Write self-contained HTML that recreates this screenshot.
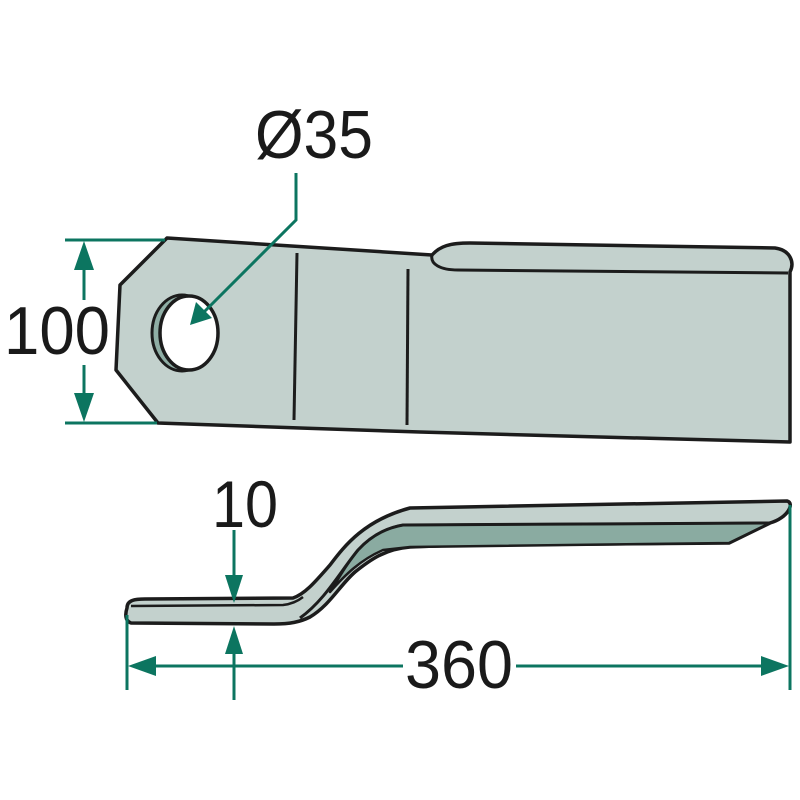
<!DOCTYPE html>
<html><head><style>html,body{margin:0;padding:0;background:#fff}svg{display:block}</style></head>
<body>
<svg width="800" height="800" viewBox="0 0 800 800" xmlns="http://www.w3.org/2000/svg">
<g font-family="Liberation Sans, sans-serif" fill="#1a1a1a">
<text x="255" y="158" font-size="68" textLength="118" lengthAdjust="spacingAndGlyphs">Ø35</text>
<text x="4" y="354" font-size="68" textLength="106" lengthAdjust="spacingAndGlyphs">100</text>
<text x="212" y="527" font-size="66" textLength="66" lengthAdjust="spacingAndGlyphs">10</text>
<text x="405" y="688" font-size="68" textLength="108" lengthAdjust="spacingAndGlyphs">360</text>
</g>

<!-- top blade -->
<path d="M167,238 L432,255 C440,246 450,243 470,243 L775,248 C790,250 795,262 790,272 L790,442 L600,437 L420,432 L300,428 L158,423 L116,370 L120,285 Z" fill="#c3d1cd" stroke="#1c1c1c" stroke-width="3.5" stroke-linejoin="round"/>
<path d="M432,255 C430,264 440,270 458,270 L788,273" fill="none" stroke="#1c1c1c" stroke-width="3"/>
<line x1="297" y1="253" x2="294" y2="420" stroke="#1c1c1c" stroke-width="3"/>
<line x1="408" y1="269" x2="407" y2="425" stroke="#1c1c1c" stroke-width="3"/>
<ellipse cx="182" cy="333" rx="30" ry="38" fill="#8faea5" stroke="#1c1c1c" stroke-width="3"/>
<ellipse cx="189" cy="333" rx="29" ry="37" fill="#fff" stroke="#1c1c1c" stroke-width="3.5"/>

<!-- side view -->
<path d="M127,608 C127,600 135,599 145,599 L293,598 C305,594 315,582 330,565 C345,545 365,520 410,508 L787,501 C795,503 788,518 770,523 L729,543 L460,545 L410,547 C385,549 370,560 355,572 C340,585 330,605 310,617 C300,622 290,624 274,624 L131,623 C125,621 125,614 127,608 Z" fill="#c3d1cd" stroke="#1c1c1c" stroke-width="3.5" stroke-linejoin="round"/>
<path d="M770,523 L403,525 C385,528 370,537 358,550 C345,566 338,580 330,592 C345,575 360,560 383,550 L410,547 L729,543 Z" fill="#8aaba1" stroke="#1c1c1c" stroke-width="2.5" stroke-linejoin="round"/>
<path d="M770,523 L403,525 C385,528 370,537 358,550 C340,572 325,600 300,618" fill="none" stroke="#1c1c1c" stroke-width="3"/>
<path d="M131,606 L283,605 C292,604 298,601 303,597" fill="none" stroke="#1c1c1c" stroke-width="2.5"/>

<!-- dimensions -->
<g stroke="#0c7560" stroke-width="3" fill="none">
<polyline points="296,173 296,220 200,316"/>
<line x1="65" y1="240" x2="165" y2="240"/>
<line x1="65" y1="423" x2="157" y2="423"/>
<line x1="84" y1="255" x2="84" y2="300"/>
<line x1="84" y1="365" x2="84" y2="408"/>
<line x1="127" y1="615" x2="127" y2="690"/>
<line x1="790" y1="505" x2="790" y2="690"/>
<line x1="140" y1="666" x2="403" y2="666"/>
<line x1="516" y1="666" x2="777" y2="666"/>
<line x1="234" y1="530" x2="234" y2="588"/>
<line x1="234" y1="640" x2="234" y2="700"/>
</g>
<g fill="#0c7560">
<polygon points="190,325 196,302 212,318"/>
<polygon points="84,241 74,270 94,270"/>
<polygon points="84,422 74,393 94,393"/>
<polygon points="128,666 156,656 156,676"/>
<polygon points="789,666 761,656 761,676"/>
<polygon points="234,603 225,575 243,575"/>
<polygon points="234,626 225,654 243,654"/>
</g>
</svg>
</body></html>
